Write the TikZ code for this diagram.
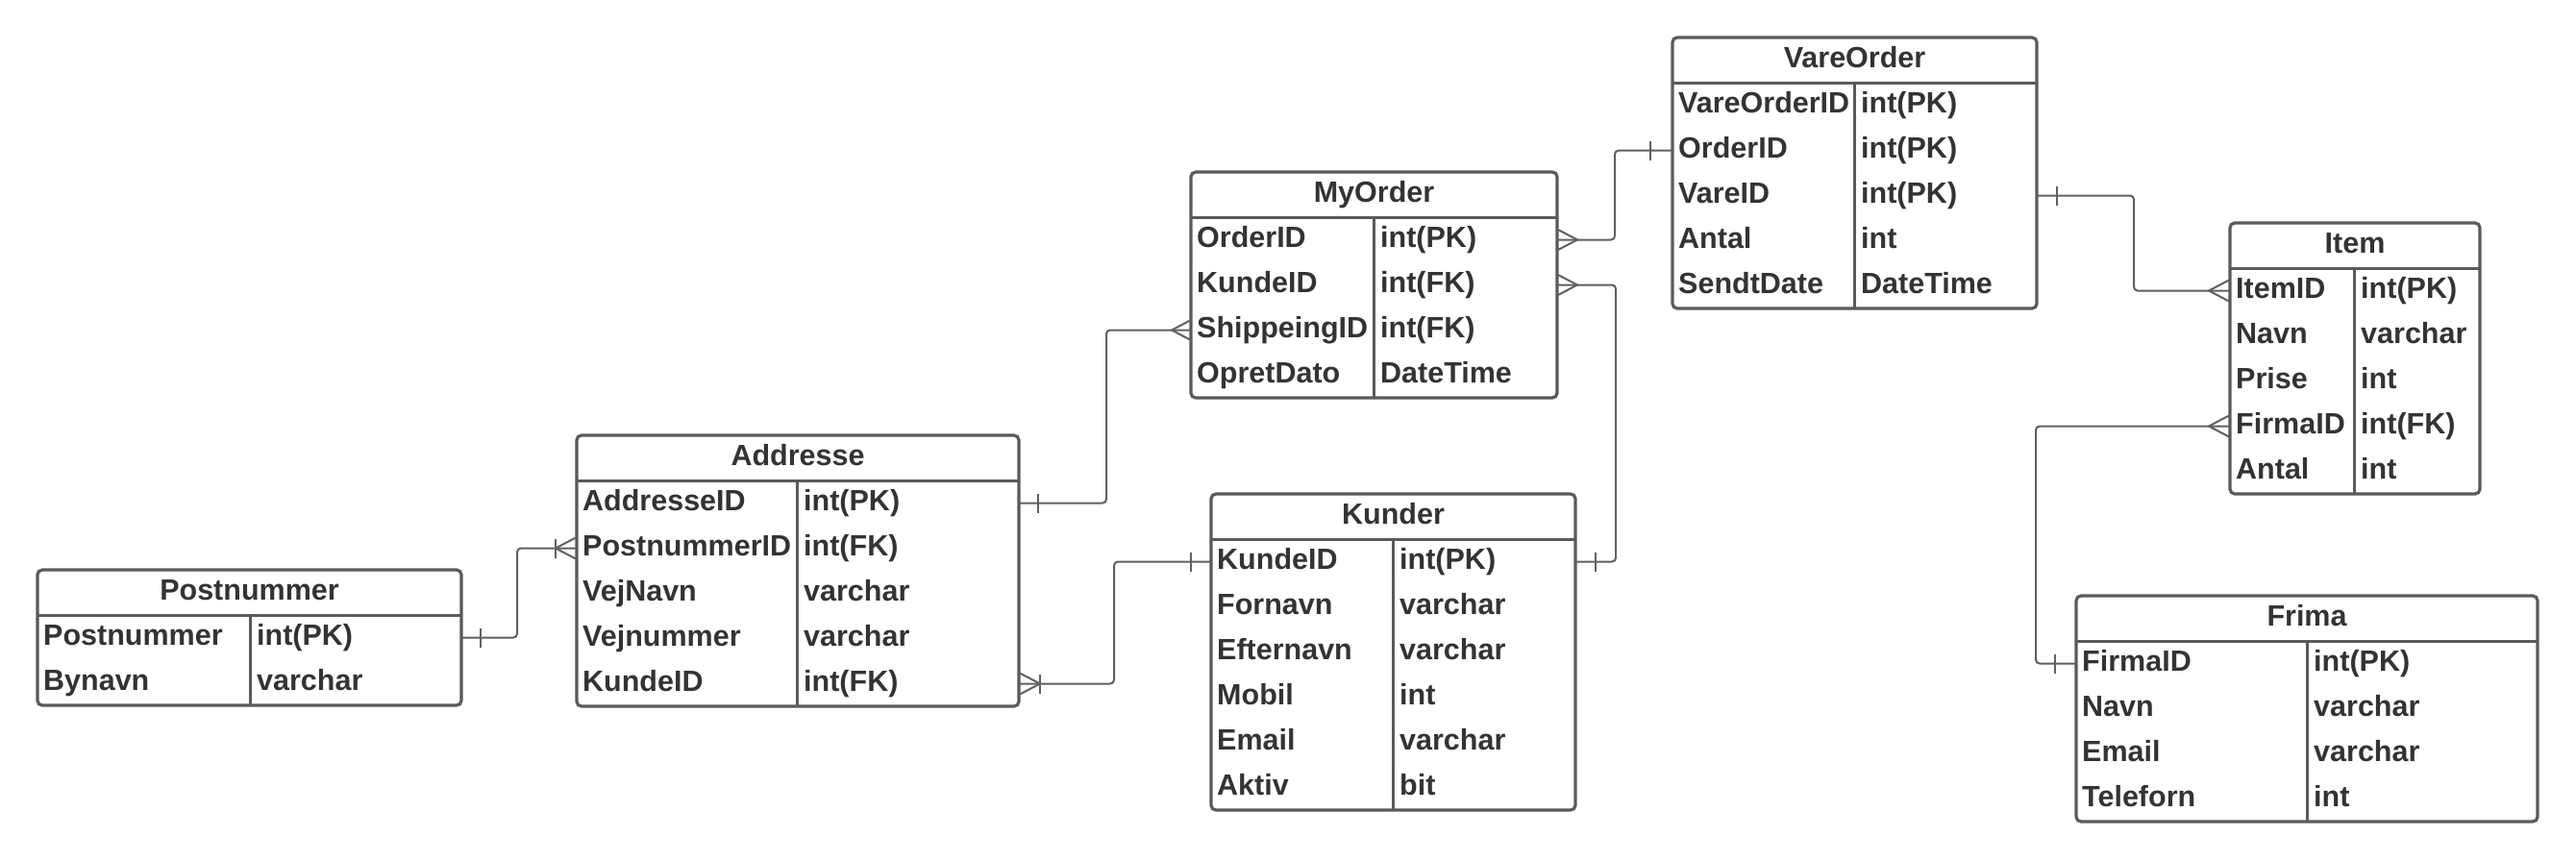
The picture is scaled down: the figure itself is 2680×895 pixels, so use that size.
\documentclass[tikz,border=0pt]{standalone}
\usepackage{fontspec}
\setmainfont{Liberation Sans}
\definecolor{bordc}{HTML}{5A5A5A}
\definecolor{linec}{HTML}{606060}
\definecolor{txtc}{HTML}{333333}
\tikzset{
  tblbox/.style={draw=bordc, line width=3.2pt, rounded corners=5pt, fill=white, inner sep=0pt, outer sep=0pt, anchor=north west},
  tblline/.style={draw=bordc, line width=3pt},
  celltxt/.style={anchor=base west, inner sep=0pt, text=txtc, font=\fontsize{30.5}{36}\selectfont\bfseries},
  headtxt/.style={anchor=base, inner sep=0pt, text=txtc, font=\fontsize{30.5}{36}\selectfont\bfseries},
  conn/.style={draw=linec, line width=2pt, rounded corners=4pt},
  markln/.style={draw=linec, line width=2pt},
  pics/onebar/.style={code={\draw[markln] (0,-10) -- (0,10);}},
  pics/crowright/.style={code={\draw[markln] (21,-11) -- (0,0) -- (21,11);}},
  pics/crowleft/.style={code={\draw[markln] (-21,-11) -- (0,0) -- (-21,11);}},
}
% #1 name, #2 x, #3 y, #4 width, #5 divider x, #6 title, #7 number of rows, #8 rows
\newcommand\ertab[8]{%
  \pgfmathsetmacro\erh{47+47*#7}%
  \node[tblbox, minimum width=#4pt, minimum height=\erh pt] (#1) at (#2,#3) {};
  \draw[tblline] (#2,#3+47) -- (#2+#4,#3+47);
  \draw[tblline] (#5,#3+47) -- (#5,#3+\erh);
  \node[headtxt] (#1-h) at (#2+#4/2,#3+31) {#6};
  \foreach \a/\b [count=\i] in {#8} {
    \coordinate (#1-\i) at (#2,#3+23.5+47*\i);
    \node[celltxt] (#1-k\i) at (#2+6,#3+31.5+47*\i) {\a};
    \node[celltxt] (#1-t\i) at (#5+7,#3+31.5+47*\i) {\b};
  }
}
\begin{document}
\begin{tikzpicture}[x=1pt,y=-1pt]
\fill[white] (0,0) rectangle (2680,895);
\useasboundingbox (0,0) rectangle (2680,895);

\ertab{post}{39}{593}{441}{260}{Postnummer}{2}{Postnummer/int(PK), Bynavn/varchar}
\ertab{addr}{600}{453}{460}{829}{Addresse}{5}{AddresseID/int(PK), PostnummerID/int(FK), VejNavn/varchar, Vejnummer/varchar, KundeID/int(FK)}
\ertab{myord}{1239}{179}{381}{1429}{MyOrder}{4}{OrderID/int(PK), KundeID/int(FK), ShippeingID/int(FK), OpretDato/DateTime}
\ertab{kund}{1260}{514}{379}{1449}{Kunder}{6}{KundeID/int(PK), Fornavn/varchar, Efternavn/varchar, Mobil/int, Email/varchar, Aktiv/bit}
\ertab{vare}{1740}{39}{379}{1929}{VareOrder}{5}{VareOrderID/int(PK), OrderID/int(PK), VareID/int(PK), Antal/int, SendtDate/DateTime}
\ertab{item}{2320}{232}{260}{2449}{Item}{5}{ItemID/int(PK), Navn/varchar, Prise/int, FirmaID/int(FK), Antal/int}
\ertab{frima}{2160}{620}{480}{2400}{Frima}{4}{FirmaID/int(PK), Navn/varchar, Email/varchar, Teleforn/int}

% Postnummer -> Addresse
\draw[conn] (post.east |- post-1) -- ++(58,0) |- (addr-2);
\pic at ([xshift=20pt]post.east |- post-1) {onebar};
\pic at ([xshift=-22pt]addr-2) {crowright};
\pic at ([xshift=-22pt]addr-2) {onebar};

% Addresse -> MyOrder
\draw[conn] (addr.east |- addr-1) -- ++(91,0) |- (myord-3);
\pic at ([xshift=20pt]addr.east |- addr-1) {onebar};
\pic at ([xshift=-20pt]myord-3) {crowright};

% Addresse -> Kunder
\draw[conn] (addr.east |- addr-5) -- ++(99,0) |- (kund-1);
\pic at ([xshift=22pt]addr.east |- addr-5) {crowleft};
\pic at ([xshift=22pt]addr.east |- addr-5) {onebar};
\pic at ([xshift=-21pt]kund-1) {onebar};

% MyOrder -> VareOrder
\draw[conn] (myord.east |- myord-1) -- ++(60,0) |- (vare-2);
\pic at ([xshift=21pt]myord.east |- myord-1) {crowleft};
\pic at ([xshift=-23pt]vare-2) {onebar};

% MyOrder -> Kunder
\draw[conn] (myord.east |- myord-2) -- ++(61,0) |- (kund.east |- kund-1);
\pic at ([xshift=21pt]myord.east |- myord-2) {crowleft};
\pic at ([xshift=21pt]kund.east |- kund-1) {onebar};

% VareOrder -> Item
\draw[conn] (vare.east |- vare-3) -- ++(101,0) |- (item-1);
\pic at ([xshift=21pt]vare.east |- vare-3) {onebar};
\pic at ([xshift=-22pt]item-1) {crowright};

% Item -> Frima
\draw[conn] (item-4) -- ++(-202,0) |- (frima-1);
\pic at ([xshift=-22pt]item-4) {crowright};
\pic at ([xshift=-22pt]frima-1) {onebar};
\end{tikzpicture}
\end{document}
